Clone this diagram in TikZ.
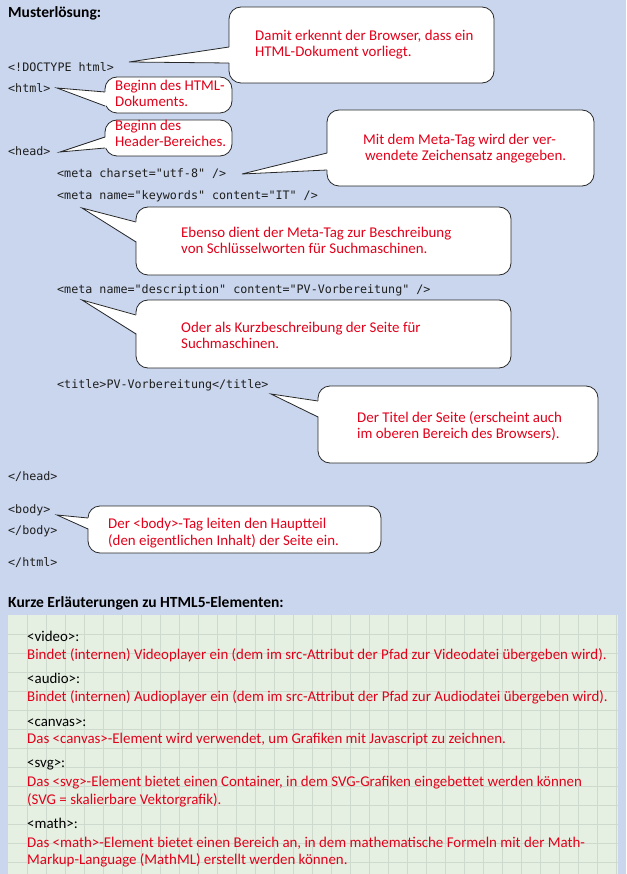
\documentclass[tikz,border=0pt]{standalone}
\usepackage{fontspec}
\setmainfont{Carlito}
\newfontfamily\codefont{DejaVu Sans Mono}
\usetikzlibrary{calc}
\definecolor{bgblue}{RGB}{201,214,237}
\definecolor{gridgreen}{RGB}{229,240,226}
\definecolor{gridline}{RGB}{206,218,206}
\definecolor{notered}{RGB}{226,0,26}
\definecolor{codegray}{RGB}{30,30,30}
\definecolor{boxgray}{RGB}{40,40,40}
\tikzset{
  code/.style={font=\codefont\fontsize{11.7}{14}\selectfont, text=codegray, anchor=base west, inner sep=0pt},
  note/.style={font=\fontsize{14.9}{16}\selectfont, text=notered, anchor=base west, inner sep=0pt},
  tagtxt/.style={font=\fontsize{14.9}{16}\selectfont, text=black, anchor=base west, inner sep=0pt},
  head/.style={font=\bfseries\fontsize{15.5}{16}\selectfont, text=black, anchor=base west, inner sep=0pt},
  callbox/.style={draw=boxgray, fill=white, line width=0.8pt, rounded corners=12pt, inner sep=0pt},
  ptr/.style={draw=boxgray, line width=0.8pt, line join=miter},
  gline/.style={draw=gridline, line width=0.8pt}
}
\newcommand{\mkbox}[5]{% name, x0, y0, x1, y1
  \path let \n1={#4-#2}, \n2={#5-#3} in
    node[callbox, minimum width=\n1 pt, minimum height=\n2 pt] (#1) at ({(#2+#4)/2},{(#3+#5)/2}) {};
}
\newcommand{\mkptr}[4]{% tip coord, x0, ya, yb
  \fill[white] ({#2+1.5},#3) -- (#1) -- ({#2+1.5},#4) -- cycle;
  \draw[ptr] (#2,#3) -- (#1) -- (#2,#4);
}
\begin{document}
\begin{tikzpicture}[x=1pt,y=-1pt]
\useasboundingbox (0,0) rectangle (626,874);
\fill[bgblue] (0,0) rectangle (626,874);
\fill[gridgreen] (8,615) rectangle (618,874);
\foreach \i in {1,...,32} \draw[gline] ({8+19*\i},615) -- ({8+19*\i},874);
\foreach \j in {1,...,13} \draw[gline] (8,{615+19*\j}) -- (618,{615+19*\j});

% headings
\node[head] (h1) at (8,18) {Musterlösung:};
\node[head] (h2) at (8,607) {Kurze Erläuterungen zu HTML5-Elementen:};

% code lines
\node[code] (l1) at (8,72) {<!DOCTYPE html>};
\node[code] (l2) at (8,93) {<html>};
\node[code] (l3) at (8,156) {<head>};
\node[code] (l4) at (57,178) {<meta charset="utf-8" />};
\node[code] (l5) at (57,200) {<meta name="keywords" content="IT" />};
\node[code] (l6) at (57,293) {<meta name="description" content="PV-Vorbereitung" />};
\node[code] (l7) at (57,388) {<title>PV-Vorbereitung</title>};
\node[code] (l8) at (8,480) {</head>};
\node[code] (l9) at (8,513) {<body>};
\node[code] (l10) at (8,534) {</body>};
\node[code] (l11) at (8,566) {</html>};

% callout boxes
\mkbox{c1}{229}{7}{494}{83}
\mkbox{c2}{105}{77}{232}{113}
\mkbox{c3}{105}{120}{232}{156}
\mkbox{c4}{327}{110}{594}{186}
\mkbox{c5}{136}{207}{511}{275}
\mkbox{c6}{136}{300}{511}{368}
\mkbox{c7}{318}{386}{598}{463}
\mkbox{c8}{88}{506}{381}{553}

% pointer tips
\coordinate (t1) at (129,62);
\coordinate (t2) at (57,88);
\coordinate (t3) at (60,152);
\coordinate (t4) at (242,174);
\coordinate (t5) at (82,208);
\coordinate (t6) at (82,300);
\coordinate (t7) at (271,394);
\coordinate (t8) at (57,515);
\mkptr{t1}{229}{47}{63}
\mkptr{t2}{105}{92}{106}
\mkptr{t3}{105}{137}{148}
\mkptr{t4}{327}{153}{170}
\mkptr{t5}{136}{222}{242}
\mkptr{t6}{136}{315}{334}
\mkptr{t7}{318}{401}{417}
\mkptr{t8}{88}{518}{529}

% callout texts
\node[note] (n1a) at (255,41) {Damit erkennt der Browser, dass ein};
\node[note] (n1b) at (255,57) {HTML-Dokument vorliegt.};
\node[note] (n2a) at (115,91) {Beginn des HTML-};
\node[note] (n2b) at (115,107) {Dokuments.};
\node[note] (n3a) at (115,131) {Beginn des};
\node[note] (n3b) at (115,147) {Header-Bereiches.};
\node[note] (n4a) at (363,145) {Mit dem Meta-Tag wird der ver-};
\node[note] (n4b) at (365,161) {wendete Zeichensatz angegeben.};
\node[note] (n5a) at (181,238) {Ebenso dient der Meta-Tag zur Beschreibung};
\node[note] (n5b) at (181,254) {von Schlüsselworten für Suchmaschinen.};
\node[note] (n6a) at (181,332) {Oder als Kurzbeschreibung der Seite für};
\node[note] (n6b) at (181,348) {Suchmaschinen.};
\node[note] (n7a) at (357,422) {Der Titel der Seite (erscheint auch};
\node[note] (n7b) at (357,438) {im oberen Bereich des Browsers).};
\node[note] (n8a) at (108,528) {Der <body>-Tag leiten den Hauptteil};
\node[note] (n8b) at (108,545) {(den eigentlichen Inhalt) der Seite ein.};

% bottom entries
\node[tagtxt] (e1) at (27,641) {<video>:};
\node[note] (e1a) at (27,659) {Bindet (internen) Videoplayer ein (dem im src-Attribut der Pfad zur Videodatei übergeben wird).};
\node[tagtxt] (e2) at (27,683) {<audio>:};
\node[note] (e2a) at (27,701) {Bindet (internen) Audioplayer ein (dem im src-Attribut der Pfad zur Audiodatei übergeben wird).};
\node[tagtxt] (e3) at (27,726) {<canvas>:};
\node[note] (e3a) at (27,743) {Das <canvas>-Element wird verwendet, um Grafiken mit Javascript zu zeichnen.};
\node[tagtxt] (e4) at (27,767) {<svg>:};
\node[note] (e4a) at (27,786) {Das <svg>-Element bietet einen Container, in dem SVG-Grafiken eingebettet werden können};
\node[note] (e4b) at (27,804) {(SVG = skalierbare Vektorgrafik).};
\node[tagtxt] (e5) at (27,828) {<math>:};
\node[note] (e5a) at (27,847) {Das <math>-Element bietet einen Bereich an, in dem mathematische Formeln mit der Math-};
\node[note] (e5b) at (27,864) {Markup-Language (MathML) erstellt werden können.};
\end{tikzpicture}
\end{document}
